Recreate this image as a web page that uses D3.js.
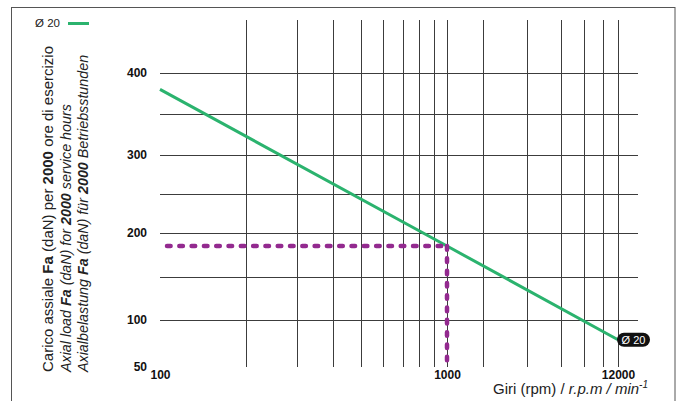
<!DOCTYPE html>
<html>
<head>
<meta charset="utf-8">
<script src="https://cdn.jsdelivr.net/npm/d3@7"></script>
<style>
  html, body { margin: 0; padding: 0; background: #fff; }
  svg { display: block; font-family: "Liberation Sans", Arial, Helvetica, sans-serif; }
</style>
</head>
<body>
<svg id="chart" width="680" height="401"></svg>
<script>
// ---- data ----
const seriesName = "Ø 20";
const rpm = [100, 1000, 12000];
const loadFa = [380, 185, 79];
const exampleRpm = 1000;
const exampleFa = 185;
const yTickLabels = [50, 100, 200, 300, 400];
const yGridValues = [100, 150, 200, 250, 300, 350, 400];
const xGridValues = [200, 300, 400, 500, 600, 700, 800, 900, 1000, 2000, 4000, 6000, 8000, 10000, 12000];
const xTickLabels = [100, 1000, 12000];
const yTitleLines = [
  [{t: "Carico assiale ", b: false, i: false}, {t: "Fa", b: true, i: false}, {t: " (daN) per ", b: false, i: false}, {t: "2000", b: true, i: false}, {t: " ore di esercizio", b: false, i: false}],
  [{t: "Axial load ", b: false, i: true}, {t: "Fa", b: true, i: true}, {t: " (daN) for ", b: false, i: true}, {t: "2000", b: true, i: true}, {t: " service hours", b: false, i: true}],
  [{t: "Axialbelastung ", b: false, i: true}, {t: "Fa", b: true, i: true}, {t: " (daN) für ", b: false, i: true}, {t: "2000", b: true, i: true}, {t: " Betriebsstunden", b: false, i: true}]
];

// ---- layout ----
const green = "#2bb36e";
const purple = "#932a8f";
const gridColor = "#3c3c3c";
const plotTop = 20, plotRight = 638;

const svg = d3.select("#chart");

// frame
svg.append("rect").attr("x", 11.5).attr("y", 7.5).attr("width", 663.5).attr("height", 420)
  .attr("fill", "none").attr("stroke", "#555").attr("stroke-width", 1);

// scales (hand-drawn, approximately logarithmic x, piecewise linear y)
const x = d3.scaleLog().domain([100, 1000, 2000, 4000, 12000]).range([160, 447, 483, 527, 618]);
const y = d3.scaleLinear().domain([50, 100, 200, 300, 400]).range([367, 320, 233, 155, 73]);

const plotLeft = x(100), plotBottom = y(50);

// grid
const grid = svg.append("g");
grid.selectAll("line.h").data(yGridValues).join("line")
  .attr("x1", plotLeft).attr("x2", plotRight)
  .attr("y1", d => Math.round(y(d)) + 0.5).attr("y2", d => Math.round(y(d)) + 0.5)
  .attr("stroke", gridColor).attr("stroke-width", 1);
grid.selectAll("line.v").data(xGridValues).join("line")
  .attr("x1", d => Math.round(x(d)) + 0.5).attr("x2", d => Math.round(x(d)) + 0.5)
  .attr("y1", plotTop).attr("y2", plotBottom)
  .attr("stroke", gridColor).attr("stroke-width", 1);

// y axis labels
const yAxis = svg.append("g").attr("transform", `translate(${plotLeft - 10},0)`)
  .call(d3.axisLeft(y).tickValues(yTickLabels).tickSize(0).tickPadding(3).tickFormat(d3.format("d")));
yAxis.select(".domain").remove();
yAxis.selectAll("text").attr("font-size", 12).attr("font-weight", "bold").attr("fill", "#111")
  .attr("font-family", "Liberation Sans, Arial, sans-serif");

// x axis labels
const xAxis = svg.append("g").attr("transform", `translate(0,${plotBottom + 3})`)
  .call(d3.axisBottom(x).tickValues(xTickLabels).tickSize(0).tickPadding(0).tickFormat(d3.format("d")));
xAxis.select(".domain").remove();
xAxis.selectAll("text").attr("font-size", 12).attr("font-weight", "bold").attr("fill", "#111")
  .attr("font-family", "Liberation Sans, Arial, sans-serif");

// main line
const pts = rpm.map((r, i) => [r, loadFa[i]]);
svg.append("path").datum(pts)
  .attr("d", d3.line().x(d => x(d[0])).y(d => y(d[1])))
  .attr("fill", "none").attr("stroke", green).attr("stroke-width", 3);

// example dashed lines
const dash = svg.append("g").attr("fill", "none").attr("stroke", purple)
  .attr("stroke-width", 4.5).attr("stroke-linecap", "round").attr("stroke-dasharray", "3.6 8.7");
dash.append("line").attr("x1", plotLeft + 7).attr("y1", y(exampleFa)).attr("x2", x(exampleRpm)).attr("y2", y(exampleFa));
dash.append("line").attr("x1", x(exampleRpm)).attr("y1", y(exampleFa)).attr("x2", x(exampleRpm)).attr("y2", plotBottom - 2);

// end label pill
const last = pts[pts.length - 1];
const ex = x(last[0]), ey = y(last[1]);
svg.append("rect").attr("x", ex - 1).attr("y", ey - 7).attr("width", 33).attr("height", 14).attr("rx", 7)
  .attr("fill", "#111");
svg.append("text").attr("x", ex + 15.5).attr("y", ey + 4).attr("text-anchor", "middle")
  .attr("font-size", 11).attr("fill", "#fff").text(seriesName);

// legend
svg.append("text").attr("x", 35).attr("y", 26.5).attr("font-size", 11.5).attr("fill", "#222").text(seriesName);
svg.append("line").attr("x1", 68).attr("x2", 89).attr("y1", 23.5).attr("y2", 23.5)
  .attr("stroke", green).attr("stroke-width", 3);

// y title (rotated)
const baselines = [53, 70.5, 88];
yTitleLines.forEach((parts, i) => {
  const t = svg.append("text")
    .attr("transform", `translate(${baselines[i]},372) rotate(-90)`)
    .attr("font-size", i === 0 ? 15 : 14.3).attr("fill", "#222");
  parts.forEach(p => {
    t.append("tspan").attr("font-weight", p.b ? "bold" : "normal")
      .attr("font-style", p.i ? "italic" : "normal").text(p.t);
  });
});

// x title
const xt = svg.append("text").attr("x", 648).attr("y", 394).attr("text-anchor", "end")
  .attr("font-size", 15).attr("fill", "#222");
xt.append("tspan").text("Giri (rpm) / ");
xt.append("tspan").attr("font-style", "italic").text("r.p.m / min");
xt.append("tspan").attr("font-style", "italic").attr("font-size", 10).attr("dy", -6).text("-1");
</script>
</body>
</html>
